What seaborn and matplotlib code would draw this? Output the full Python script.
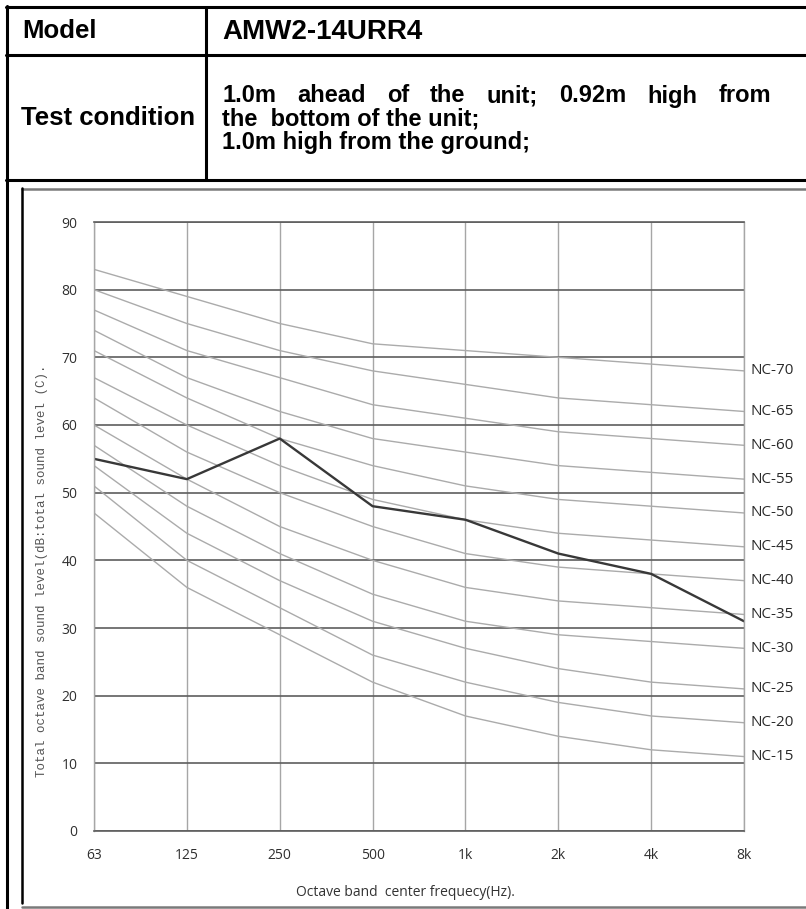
import numpy as np
import pandas as pd
import matplotlib
matplotlib.use('Agg')
import matplotlib.pyplot as plt
import seaborn as sns
from matplotlib.lines import Line2D

# octave bands and the measured curve of the unit
bands = ['63', '125', '250', '500', '1k', '2k', '4k', '8k']
measured = [55, 52, 58, 48, 46, 41, 38, 31]

# NC reference curves
nc_names = ['NC-15', 'NC-20', 'NC-25', 'NC-30', 'NC-35', 'NC-40',
            'NC-45', 'NC-50', 'NC-55', 'NC-60', 'NC-65', 'NC-70']
nc_15 = [47, 36, 29, 22, 17, 14, 12, 11]
nc_20 = [51, 40, 33, 26, 22, 19, 17, 16]
nc_25 = [54, 44, 37, 31, 27, 24, 22, 21]
nc_30 = [57, 48, 41, 35, 31, 29, 28, 27]
nc_35 = [60, 52, 45, 40, 36, 34, 33, 32]
nc_40 = [64, 56, 50, 45, 41, 39, 38, 37]
nc_45 = [67, 60, 54, 49, 46, 44, 43, 42]
nc_50 = [71, 64, 58, 54, 51, 49, 48, 47]
nc_55 = [74, 67, 62, 58, 56, 54, 53, 52]
nc_60 = [77, 71, 67, 63, 61, 59, 58, 57]
nc_65 = [80, 75, 71, 68, 66, 64, 63, 62]
nc_70 = [83, 79, 75, 72, 71, 70, 69, 68]
nc_curves = [nc_15, nc_20, nc_25, nc_30, nc_35, nc_40,
             nc_45, nc_50, nc_55, nc_60, nc_65, nc_70]

y_ticks = [0, 10, 20, 30, 40, 50, 60, 70, 80, 90]

model_name = 'AMW2-14URR4'
cond_lines = ['1.0m ahead of the unit; 0.92m high from',
              'the  bottom of the unit;',
              '1.0m high from the ground;']

# long-form table for seaborn
pos = list(range(len(bands)))
nc_df = pd.DataFrame({
    'pos': pos * len(nc_names),
    'level': sum(nc_curves, []),
    'curve': [n for n in nc_names for _ in bands],
})

sns.set_style('white')
plt.rcParams['font.family'] = ['Open Sans', 'DejaVu Sans']

W, H = 806, 909
fig = plt.figure(figsize=(W / 100, H / 100), dpi=100)


def fx(x):
    return x / W


def fy(y):
    return 1 - y / H


def hline(x0, x1, y, color='black', lw=2.2):
    fig.add_artist(Line2D([fx(x0), fx(x1)], [fy(y), fy(y)],
                          transform=fig.transFigure, color=color, lw=lw))


def vline(x, y0, y1, color='black', lw=2.2):
    fig.add_artist(Line2D([fx(x), fx(x)], [fy(y0), fy(y1)],
                          transform=fig.transFigure, color=color, lw=lw))


# ---- header table ----
hline(6, 806, 7)
hline(6, 806, 55)
hline(6, 806, 180)
vline(7, 6, 909)
vline(206, 7, 180)

hdr = dict(family='Liberation Sans', weight='bold', color='black', va='center')
fig.text(fx(22), fy(31), 'Model', size=18.5, **hdr)
fig.text(fx(222), fy(32), model_name, size=20, **hdr)
fig.text(fx(21), fy(118), 'Test condition', size=18.5, **hdr)

# justified first line, plain lines after
renderer = fig.canvas.get_renderer()
line_y = [96, 119, 142]
words = cond_lines[0].split()
word_txt = [fig.text(0, fy(line_y[0]), w, size=17, **hdr) for w in words]
widths = [t.get_window_extent(renderer).width for t in word_txt]
x_left, x_right = 222, 771
gap = (x_right - x_left - sum(widths)) / (len(words) - 1)
cur = x_left
for t, w in zip(word_txt, widths):
    t.set_x(fx(cur))
    cur += w + gap
for txt, yy in zip(cond_lines[1:], line_y[1:]):
    fig.text(fx(222), fy(yy), txt, size=17, **hdr)

# frame of the chart picture
hline(22, 806, 189, color='#7a7a7a', lw=1.8)
vline(22, 188, 903, color='black', lw=1.8)
hline(22, 806, 907, color='#7a7a7a', lw=1.8)

# ---- chart ----
ax = fig.add_axes([fx(94), fy(831), (744 - 94) / W, (831 - 222) / H])

sns.lineplot(data=nc_df, x='pos', y='level', units='curve', estimator=None,
             color='#ababab', lw=1.0, ax=ax, legend=False)
sns.lineplot(x=pos, y=measured, color='#383838', lw=1.7, ax=ax)

ax.set_xlim(0, len(bands) - 1)
ax.set_ylim(0, 90)
ax.set_xticks(pos)
ax.set_xticklabels(bands)
ax.set_yticks(y_ticks)
ax.set_xlabel('')
ax.set_ylabel('')
ax.set_axisbelow(True)
ax.xaxis.grid(True, color='#a6a6a6', lw=1.0)
ax.yaxis.grid(True, color='#5e5e5e', lw=1.2)
for side in ['left', 'right']:
    ax.spines[side].set_color('#a6a6a6')
    ax.spines[side].set_linewidth(1.0)
for side in ['top', 'bottom']:
    ax.spines[side].set_color('#5e5e5e')
    ax.spines[side].set_linewidth(1.2)
ax.tick_params(length=0, labelsize=10, colors='#2f2f2f')
ax.tick_params(axis='y', pad=12)
ax.tick_params(axis='x', pad=12)

for name, vals in zip(nc_names, nc_curves):
    ax.text(1 + 6 / 650, vals[-1], name, transform=ax.get_yaxis_transform(),
            ha='left', va='center', size=11, color='#2a2a2a', clip_on=False)

fig.text(fx(42), fy(571), 'Total octave band sound level(dB:total sound level (C).',
         rotation=90, ha='center', va='center', family='Liberation Mono',
         size=9, color='#555555')
fig.text(fx(405), fy(892), 'Octave band  center frequecy(Hz).',
         ha='center', va='center', size=10, color='#333333')

fig.savefig('out.png', dpi=100)
